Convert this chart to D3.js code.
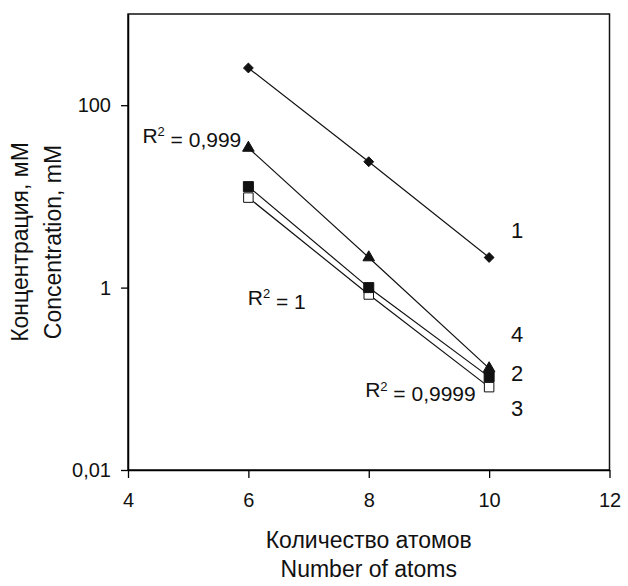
<!DOCTYPE html>
<html>
<head>
<meta charset="utf-8">
<script src="https://cdn.jsdelivr.net/npm/d3@7"></script>
<style>
  body { margin: 0; background: #fff; }
  text { font-family: "Liberation Sans", Arial, sans-serif; fill: #111; }
</style>
</head>
<body>
<svg id="chart" width="628" height="586"></svg>
<script>
// number of atoms
const atoms = [6, 8, 10]
// concentration, mM (log scale), curves 1..4
const series1 = [256, 24, 2.14]
const series2 = [12.8, 1.0, 0.105]
const series3 = [9.7, 0.84, 0.081]
const series4 = [34, 2.14, 0.13]
const xTicks = [4, 6, 8, 10, 12]
const yTicks = [0.01, 1, 100]
const r2Labels = ['R² = 0,999', 'R² = 1', 'R² = 0,9999']

const margin = { top: 14, right: 18.5, bottom: 116, left: 128 }
const width = 628 - margin.left - margin.right
const height = 586 - margin.top - margin.bottom

const svg = d3.select('#chart')
const g = svg.append('g')
  .attr('id', 'graph-g')
  .attr('transform', 'translate(' + margin.left + ',' + margin.top + ')')

const x = d3.scaleLinear().domain([4, 12]).range([0, width])
const y = d3.scaleLog().domain([0.01, 1000]).range([height, 0])

// frame
g.append('rect')
  .attr('width', width)
  .attr('height', height)
  .attr('fill', 'none')
  .attr('stroke', '#111')
  .attr('stroke-width', 1.5)

// axes
const xAxis = g.append('g')
  .attr('transform', 'translate(0,' + height + ')')
  .call(d3.axisBottom(x).tickValues(xTicks).tickSizeInner(8).tickSizeOuter(0).tickPadding(15))
xAxis.select('.domain').attr('stroke-width', 1.5)
xAxis.selectAll('.tick line').attr('stroke-width', 1.3)
xAxis.selectAll('text').attr('font-size', 20).attr('fill', '#111')

const yAxis = g.append('g')
  .call(d3.axisLeft(y).tickValues(yTicks).tickSizeInner(7).tickSizeOuter(0).tickPadding(10)
    .tickFormat((d) => String(d).replace('.', ',')))
yAxis.select('.domain').attr('stroke-width', 1.5)
yAxis.selectAll('.tick line').attr('stroke-width', 1.3)
yAxis.selectAll('text').attr('font-size', 20).attr('fill', '#111')

// curves: name, values, marker, label offset from the last point
const data = [
  { name: '1', values: series1, marker: 'diamond', labelDy: -27 },
  { name: '2', values: series2, marker: 'square', labelDy: -4 },
  { name: '3', values: series3, marker: 'open', labelDy: 21 },
  { name: '4', values: series4, marker: 'triangle', labelDy: -34 }
]
const line = d3.line()
  .x((d) => x(d.x))
  .y((d) => y(d.y))

data.forEach((s) => {
  const pts = atoms.map((a, i) => ({ x: a, y: s.values[i] }))
  g.append('path')
    .datum(pts)
    .attr('d', line)
    .attr('fill', 'none')
    .attr('stroke', '#111')
    .attr('stroke-width', 1.2)
})

// open squares first, so the filled markers sit on top
const drawOrder = [data[2], data[1], data[0], data[3]]
drawOrder.forEach((s) => {
  const pts = atoms.map((a, i) => ({ x: a, y: s.values[i] }))
  let sym = d3.symbolSquare
  let size = 100
  if (s.marker === 'diamond') { sym = d3.symbolDiamond2; size = 62 }
  if (s.marker === 'triangle') { sym = d3.symbolTriangle; size = 58 }
  if (s.marker === 'open') { size = 90 }
  g.selectAll(null)
    .data(pts)
    .join('path')
    .attr('transform', (d) => 'translate(' + x(d.x) + ',' + y(d.y) + ')')
    .attr('d', d3.symbol().type(sym).size(size))
    .attr('fill', s.marker === 'open' ? '#fff' : '#111')
    .attr('stroke', '#111')
    .attr('stroke-width', 1)
})

// curve numbers next to the last point
data.forEach((s) => {
  g.append('text')
    .attr('x', x(atoms[2]) + 28)
    .attr('y', y(s.values[2]) + s.labelDy)
    .attr('dy', '0.36em')
    .attr('text-anchor', 'middle')
    .attr('font-size', 22)
    .text(s.name)
})

// R² annotations (baseline offsets from a nearby point)
const r2Pos = [
  { x: atoms[0], v: series4[0], dx: -106, dy: -5 },
  { x: atoms[1], v: series2[1], dx: -121, dy: 17 },
  { x: atoms[2], v: series3[2], dx: -124, dy: 10 }
]
r2Pos.forEach((p, i) => {
  const t = g.append('text')
    .attr('x', x(p.x) + p.dx)
    .attr('y', y(p.v) + p.dy)
    .attr('font-size', 21)
  const parts = r2Labels[i].split('²')
  t.append('tspan').text(parts[0])
  t.append('tspan').attr('dy', '-0.5em').attr('font-size', 13).text('2')
  t.append('tspan').attr('dy', '0.5em').text(parts[1])
})

// axis titles
const xTitle = svg.append('text')
  .attr('text-anchor', 'middle')
  .attr('font-size', 23)
xTitle.append('tspan').attr('x', margin.left + width / 2).attr('y', 548).text('Количество  атомов')
xTitle.append('tspan').attr('x', margin.left + width / 2).attr('y', 577).text('Number  of  atoms')

const yTitle = svg.append('text')
  .attr('text-anchor', 'middle')
  .attr('transform', 'translate(0,' + (margin.top + height / 2) + ') rotate(-90)')
  .attr('font-size', 23)
yTitle.append('tspan').attr('x', 0).attr('y', 28).text('Концентрация,  мМ')
yTitle.append('tspan').attr('x', 0).attr('y', 61).text('Concentration,  mM')
</script>
</body>
</html>
